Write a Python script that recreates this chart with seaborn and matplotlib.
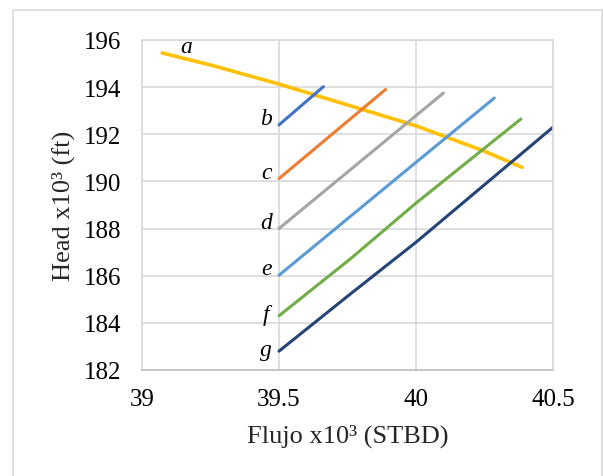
import matplotlib
matplotlib.use("Agg")
import matplotlib.pyplot as plt
import matplotlib.patches as mpatches
import seaborn as sns
import pandas as pd

# Pump curve (a) and system curves (b-g): flow x10^3 STBD vs head x10^3 ft
flujo_a = [39.074, 39.26, 39.5, 39.76, 40.0, 40.246, 40.387]
head_a = [195.45, 194.91, 194.13, 193.21, 192.36, 191.30, 190.60]

flujo_b = [39.5, 39.662]
head_b = [192.40, 194.02]

flujo_c = [39.5, 39.889]
head_c = [190.12, 193.90]

flujo_d = [39.5, 40.10]
head_d = [188.00, 193.75]

flujo_e = [39.5, 40.0, 40.286]
head_e = [186.02, 190.81, 193.54]

flujo_f = [39.5, 39.76, 40.0, 40.383]
head_f = [184.30, 186.71, 189.08, 192.65]

flujo_g = [39.5, 39.76, 40.0, 40.5]
head_g = [182.80, 185.22, 187.42, 192.30]

curve_names = ["a", "b", "c", "d", "e", "f", "g"]
curve_colors = ["#FFC000", "#4472C4", "#ED7D31", "#A5A5A5",
                "#5B9BD5", "#70AD47", "#264478"]

# Curve letters and where they sit
label_x = [39.163, 39.453, 39.455, 39.453, 39.453, 39.453, 39.453]
label_y = [195.73, 192.65, 190.39, 188.27, 186.31, 184.37, 182.89]

x_ticks = [39, 39.5, 40, 40.5]
x_tick_labels = ["39", "39.5", "40", "40.5"]
y_ticks = [182, 184, 186, 188, 190, 192, 194, 196]

series = {
    "a": (flujo_a, head_a), "b": (flujo_b, head_b), "c": (flujo_c, head_c),
    "d": (flujo_d, head_d), "e": (flujo_e, head_e), "f": (flujo_f, head_f),
    "g": (flujo_g, head_g),
}
rows = []
for name, (xs, ys) in series.items():
    for xv, yv in zip(xs, ys):
        rows.append({"curva": name, "flujo": xv, "head": yv})
df = pd.DataFrame(rows)

sns.set_theme(style="white")
plt.rcParams["font.family"] = ["Liberation Serif", "DejaVu Serif"]

fig = plt.figure(figsize=(6.03, 4.77), dpi=100)
ax = fig.add_axes([142 / 603, 1 - 371 / 477, 411 / 603, 330 / 477])

palette = dict(zip(curve_names, curve_colors))
sns.lineplot(data=df, x="flujo", y="head", hue="curva", palette=palette,
             sort=False, estimator=None, legend=False, ax=ax,
             linewidth=2.2)
# pump curve is drawn a little heavier
for line in ax.get_lines():
    if line.get_color().lower() == "#ffc000":
        line.set_linewidth(2.6)
    line.set_solid_capstyle("round")
    line.set_solid_joinstyle("round")

ax.set_xlim(39, 40.5)
ax.set_ylim(182, 196)
ax.set_xticks(x_ticks)
ax.set_xticklabels(x_tick_labels)
ax.set_yticks(y_ticks)
ax.grid(True, color="#D9D9D9", linewidth=1.2)
ax.set_axisbelow(True)
for side, sp in ax.spines.items():
    sp.set_visible(True)
    sp.set_color("#D9D9D9")
    sp.set_linewidth(1.2)
ax.spines["bottom"].set_color("#BFBFBF")
ax.tick_params(axis="both", length=0, labelsize=18, colors="black")
ax.tick_params(axis="y", pad=15)
ax.tick_params(axis="x", pad=13)

ax.set_xlabel("Flujo x10³ (STBD)", fontsize=19, labelpad=10)
ax.set_ylabel("Head x10³ (ft)", fontsize=19, labelpad=6)

for name, lx, ly in zip(curve_names, label_x, label_y):
    ax.text(lx, ly, name, fontsize=17, style="italic", ha="center",
            va="center", color="black")

# thin frame around the chart area
frame = mpatches.Rectangle((13 / 603, -0.1), (601.5 - 13) / 603, 1.1 - 10.5 / 477,
                           transform=fig.transFigure, fill=False,
                           edgecolor="#D9D9D9", linewidth=1.2, clip_on=False)
fig.patches.append(frame)

fig.savefig("out.png", dpi=100)
